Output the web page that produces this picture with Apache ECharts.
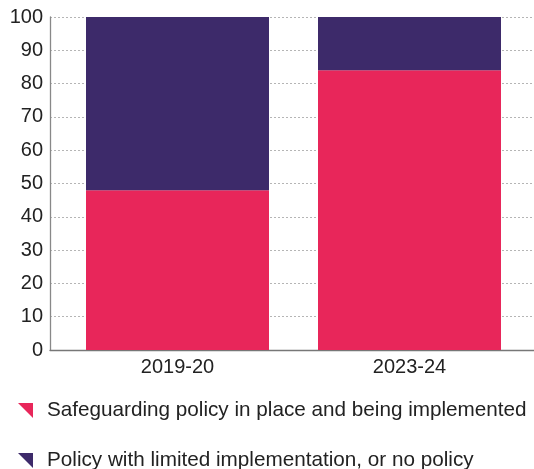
<!DOCTYPE html>
<html>
<head>
<meta charset="utf-8">
<script src="https://cdn.jsdelivr.net/npm/echarts@6/dist/echarts.min.js"></script>
<style>html,body{margin:0;padding:0;background:#fff}#c{width:534px;height:469px}</style>
</head>
<body>
<div id="c"></div>
<script>
const categories = ['2019-20', '2023-24'];
const seriesNames = ['Safeguarding policy in place and being implemented', 'Policy with limited implementation, or no policy'];
const implemented = [48, 84];
const limitedOrNone = [52, 16];
const yTicks = [0, 10, 20, 30, 40, 50, 60, 70, 80, 90, 100];

const FONT = '"Liberation Sans", Arial, sans-serif';
const TXT = '#222';
const chart = echarts.init(document.getElementById('c'), null, {renderer: 'canvas'});
chart.setOption({
  animation: false,
  backgroundColor: '#fff',
  textStyle: {fontFamily: FONT},
  grid: [
    {left: 50, right: 0, top: 17, bottom: 119},
    {left: 61.5, right: 8.5, top: 17, bottom: 119}
  ],
  xAxis: [
    {gridIndex: 0, type: 'category', data: categories,
     axisLine: {show: true, lineStyle: {color: '#777', width: 1.3}},
     axisTick: {show: false}, axisLabel: {show: false}, splitLine: {show: false}},
    {gridIndex: 1, type: 'category', data: categories,
     axisLine: {show: false}, axisTick: {show: false},
     axisLabel: {color: TXT, fontSize: 20, fontFamily: FONT, margin: 7}}
  ],
  yAxis: [
    {gridIndex: 0, type: 'value', min: yTicks[0], max: yTicks[yTicks.length - 1], interval: 10,
     axisLine: {show: true, lineStyle: {color: '#888', width: 1.3}},
     axisTick: {show: false},
     axisLabel: {color: TXT, fontSize: 20, fontFamily: FONT, margin: 7},
     splitLine: {show: true, lineStyle: {color: '#b5b5b5', type: [2, 2], width: 1}}},
    {gridIndex: 1, type: 'value', min: yTicks[0], max: yTicks[yTicks.length - 1], interval: 10,
     show: false, splitLine: {show: false}}
  ],
  legend: {
    orient: 'horizontal', left: 18, top: 400, width: 120, padding: 0, itemGap: 29,
    itemWidth: 15, itemHeight: 15,
    icon: 'path://M0,0L10,0L10,10Z',
    textStyle: {color: TXT, fontSize: 20.7, lineHeight: 20, fontFamily: FONT, padding: [0, 0, 0, 9]},
    data: seriesNames
  },
  series: [
    {name: seriesNames[0], type: 'bar', stack: 's', xAxisIndex: 1, yAxisIndex: 1,
     barWidth: 183, data: implemented, itemStyle: {color: '#E8265A'}},
    {name: seriesNames[1], type: 'bar', stack: 's', xAxisIndex: 1, yAxisIndex: 1,
     barWidth: 183, data: limitedOrNone, itemStyle: {color: '#3D2A6A'}}
  ]
});
</script>
</body>
</html>
